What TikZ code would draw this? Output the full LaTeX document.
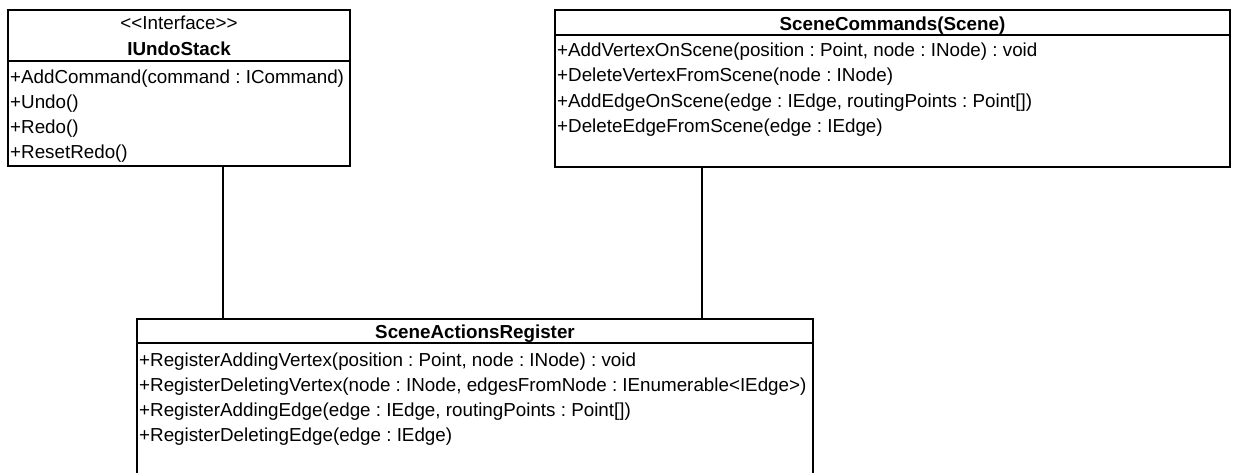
\documentclass[tikz,border=0pt]{standalone}
\usepackage{fontspec}
\setmainfont{Liberation Sans}
\frenchspacing
\begin{document}
\begin{tikzpicture}[x=1pt,y=-1pt,
  umlbox/.style={draw, line width=1.5pt, anchor=north west, inner sep=0pt, outer sep=0pt},
  sepline/.style={line width=1.5pt},
  assoc/.style={line width=1.1pt},
  member/.style={anchor=base west, inner sep=0pt, font=\fontsize{18.8}{25}\selectfont},
  title/.style={anchor=base, inner sep=0pt, font=\fontsize{18.8}{25}\selectfont\bfseries},
  stereo/.style={anchor=base, inner sep=0pt, font=\fontsize{18.8}{25}\selectfont}]
\clip (0,0) rectangle (1235,472);
\fill[white] (0,0) rectangle (1235,472);

% interface IUndoStack
\node[umlbox, minimum width=342pt, minimum height=156pt] (undo) at (8,10) {};
\draw[sepline] (undo.west |- 0,61) -- (undo.east |- 0,61);
\node[stereo] (undoSt) at (179,29.5) {{<}{<}Interface{>}{>}};
\node[title] (undoT) at (179,55) {IUndoStack};
\node[member] (u1) at (10,83) {+AddCommand(command : ICommand)};
\node[member] (u2) at (10,108) {+Undo()};
\node[member] (u3) at (10,133.5) {+Redo()};
\node[member] (u4) at (10,158.5) {+ResetRedo()};

% class SceneCommands
\node[umlbox, minimum width=675pt, minimum height=157pt] (cmds) at (555,10) {};
\draw[sepline] (cmds.west |- 0,35) -- (cmds.east |- 0,35);
\node[title] (cmdsT) at (892.5,30) {SceneCommands(Scene)};
\node[member] (c1) at (557,56) {+AddVertexOnScene(position : Point, node : INode) : void};
\node[member] (c2) at (557,81.5) {+DeleteVertexFromScene(node : INode)};
\node[member] (c3) at (557,107) {+AddEdgeOnScene(edge : IEdge, routingPoints : Point[])};
\node[member] (c4) at (557,132.5) {+DeleteEdgeFromScene(edge : IEdge)};

% class SceneActionsRegister (runs past the lower edge)
\node[umlbox, minimum width=676pt, minimum height=180pt] (reg) at (137,319) {};
\draw[sepline] (reg.west |- 0,343) -- (reg.east |- 0,343);
\node[title] (regT) at (475,338.5) {SceneActionsRegister};
\node[member] (r1) at (139,366.5) {+RegisterAddingVertex(position : Point, node : INode) : void};
\node[member] (r2) at (139,391.5) {+RegisterDeletingVertex(node : INode, edgesFromNode : IEnumerable<IEdge>)};
\node[member] (r3) at (139,416.5) {+RegisterAddingEdge(edge : IEdge, routingPoints : Point[])};
\node[member] (r4) at (139,441.5) {+RegisterDeletingEdge(edge : IEdge)};

% associations
\coordinate (ua) at (223,0);
\coordinate (ca) at (702,0);
\draw[assoc] (undo.south -| ua) -- (reg.north -| ua);
\draw[assoc] (cmds.south -| ca) -- (reg.north -| ca);
\end{tikzpicture}
\end{document}
